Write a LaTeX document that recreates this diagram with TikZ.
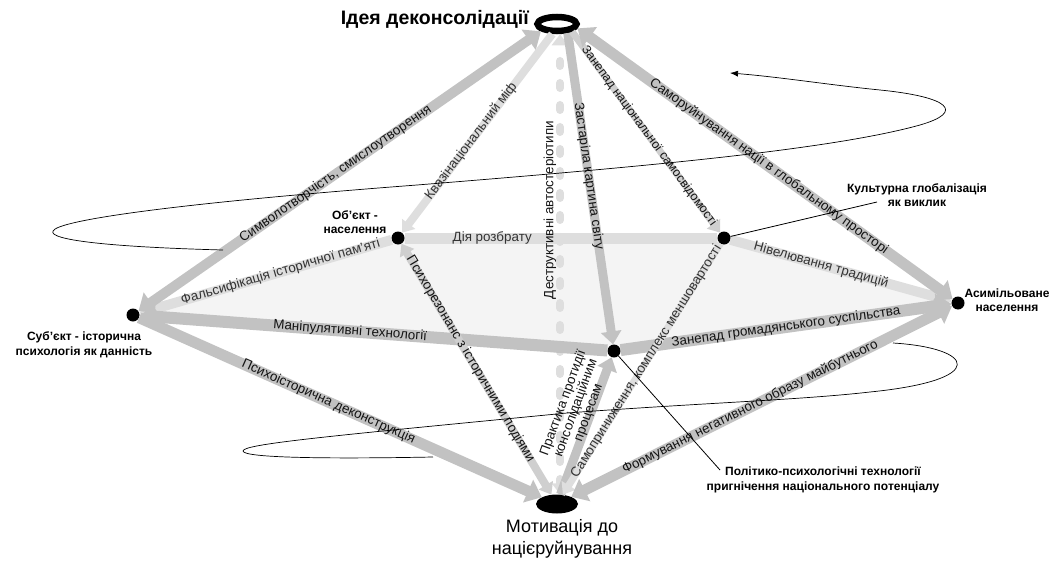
\documentclass[tikz,border=0pt]{standalone}
\usepackage{fontspec}
\setmainfont{Liberation Sans}
\usetikzlibrary{arrows.meta,shapes.geometric}
\definecolor{bdark}{HTML}{C2C2C2}
\definecolor{bmid}{HTML}{CFCFCF}
\definecolor{blight}{HTML}{DEDEDE}
\definecolor{planec}{HTML}{F4F4F4}
\definecolor{labc}{HTML}{141414}
\definecolor{labl}{HTML}{333333}
\pgfdeclarelayer{background}
\pgfsetlayers{background,main}
\begin{document}
\begin{tikzpicture}[x=1pt,y=-1pt,
  dotn/.style={circle,fill=black,inner sep=0pt,minimum size=13pt},
  ringn/.style={ellipse,draw=black,line width=6.5pt,minimum width=39pt,minimum height=14pt,inner sep=0pt},
  blobn/.style={ellipse,fill=black,minimum width=42pt,minimum height=19pt,inner sep=0pt},
  bandD/.style={draw=bdark,line width=#1},
  bandM/.style={draw=bmid,line width=#1},
  bandL/.style={draw=blight,line width=#1},
  bigtip/.tip={Triangle[length=15pt,width=24pt]},
  midtip/.tip={Triangle[length=13pt,width=20pt]},
  smalltip/.tip={Triangle[length=11pt,width=16pt]},
  lab/.style={font=\fontsize{13.4}{14}\selectfont,text=labc,inner sep=0pt},
  labL/.style={lab,text=labl},
  nlab/.style={font=\bfseries\fontsize{12}{14.5}\selectfont,align=center,inner sep=0pt},
  pointer/.style={draw=black,line width=0.8pt},
  spiral/.style={draw=black,line width=0.7pt},
]
\useasboundingbox (0,0) rectangle (1058,562);

% main nodes
\node[dotn] (L) at (133,315) {};
\node[dotn] (O) at (398,238) {};
\node[dotn] (C) at (724,238) {};
\node[dotn] (M) at (614,351) {};
\node[dotn] (R) at (958,303) {};
\node[ringn] (T) at (557,24) {};
\node[blobn] (B) at (557,504) {};

% plane
\begin{pgfonlayer}{background}
\fill[planec] (L.center) -- (O.center) -- (C.center) -- (R.center) -- (M.center) -- cycle;
\end{pgfonlayer}

% bands
\draw[bandL=11] (O) -- node[labL,pos=0.28]{Дія розбрату} (C);
\draw[bandL=10,-{midtip}] (C) -- node[labL,sloped,pos=0.41]{Нівелювання традицій} (R);
\draw[bandL=10,-{midtip}] (O) -- node[labL,sloped,pos=0.44]{Фальсифікація історичної пам'яті} (L);
\draw[bandL=8,line cap=round,dash pattern=on 5pt off 17pt,{smalltip}-{smalltip}] ([xshift=3pt]B.north) -- ([xshift=3pt]T.south);
\node[lab,rotate=90] (lDes) at (550,210) {Деструктивні автостеріотипи};
\draw[bandD=10,{bigtip}-{bigtip}] (L) -- node[lab,sloped,pos=0.49]{Символотворчість, смислоутворення} (T.south west);
\draw[bandL=8,-{smalltip}] (T.-115) -- node[labL,sloped,pos=0.54]{Квазінаціональний міф} (O);
\draw[bandD=9,-{midtip}] (T.-40) -- node[lab,sloped,pos=0.46]{Застаріла картина світу} (M);
\draw[bandM=7,-{smalltip}] (T.-27) -- node[lab,sloped,pos=0.52,font=\fontsize{12.4}{14}\selectfont]{Занепад національної самосвідомості} (C);
\draw[bandD=11,{bigtip}-{bigtip}] (R) -- node[lab,sloped,pos=0.49]{Саморуйнування нації в глобальному просторі} (T.-12);
\draw[bandD=12,-{bigtip}] (M) -- node[lab,sloped,pos=0.55]{Маніпулятивні технології} (L);
\draw[bandD=12,-{bigtip}] (M) -- node[lab,sloped,pos=0.5]{Занепад громадянського суспільства} (R);
\draw[bandD=11,-{bigtip}] (L) -- node[lab,sloped,pos=0.47]{Психоісторична деконструкція} (B);
\draw[bandM=8,{smalltip}-{smalltip}] (O) -- node[lab,sloped,pos=0.46]{Психорезонанс з історичними подіями} (B);
\draw[bandD=9,-{midtip}] (B) -- (M);
\node[lab,rotate=70,align=center,font=\fontsize{13.4}{13.5}\selectfont] (lPr) at (576,408) {Практика протидії\\консолідаційним\\процесам};
\draw[bandL=7,-{smalltip}] (C) -- node[labL,sloped,pos=0.47]{Самоприниження, комплекс меншовартості} (B);
\draw[bandD=11,{bigtip}-{bigtip}] (R) -- node[lab,sloped,pos=0.53]{Формування негативного образу майбутнього} (B);

% spiral
\draw[spiral] (433,457) .. controls (330,459) and (243,458) .. (243,451)
  .. controls (243,444) and (330,436) .. (567,413)
  .. controls (700,403) and (800,400) .. (870,392)
  .. controls (990,380) and (975,348) .. (893,343);
\draw[spiral,-{Latex[length=8pt,width=6pt]}] (223,250) .. controls (110,247) and (48,240) .. (53,231)
  .. controls (58,220) and (180,203) .. (417,185)
  .. controls (640,167) and (830,150) .. (920,125)
  .. controls (965,112) and (950,97) .. (880,90)
  .. controls (830,85) and (780,77) .. (730,73);

% pointers
\coordinate (cgp) at (877,202);
\coordinate (ppp) at (720,470);
\draw[pointer] (C) -- (cgp);
\draw[pointer] (M) -- (ppp);

% texts
\node[font=\bfseries\fontsize{19.5}{21}\selectfont,anchor=east,inner sep=0pt] (tT) at (529,19) {Ідея деконсолідації};
\node[nlab] (tO) at (355,222) {Об'єкт -\\населення};
\node[nlab] (tL) at (84,345) {Суб'єкт - історична\\психологія як данність};
\node[nlab] (tR) at (1007,300) {Асимільоване\\населення};
\node[nlab] (tCG) at (917,195) {Культурна глобалізація\\як виклик};
\node[nlab] (tPP) at (823,480) {Політико-психологічні технології\\пригнічення національного потенціалу};
\node[font=\fontsize{18}{22}\selectfont,align=center,inner sep=0pt] (tB) at (562,539) {Мотивація до\\націєруйнування};
\end{tikzpicture}
\end{document}
